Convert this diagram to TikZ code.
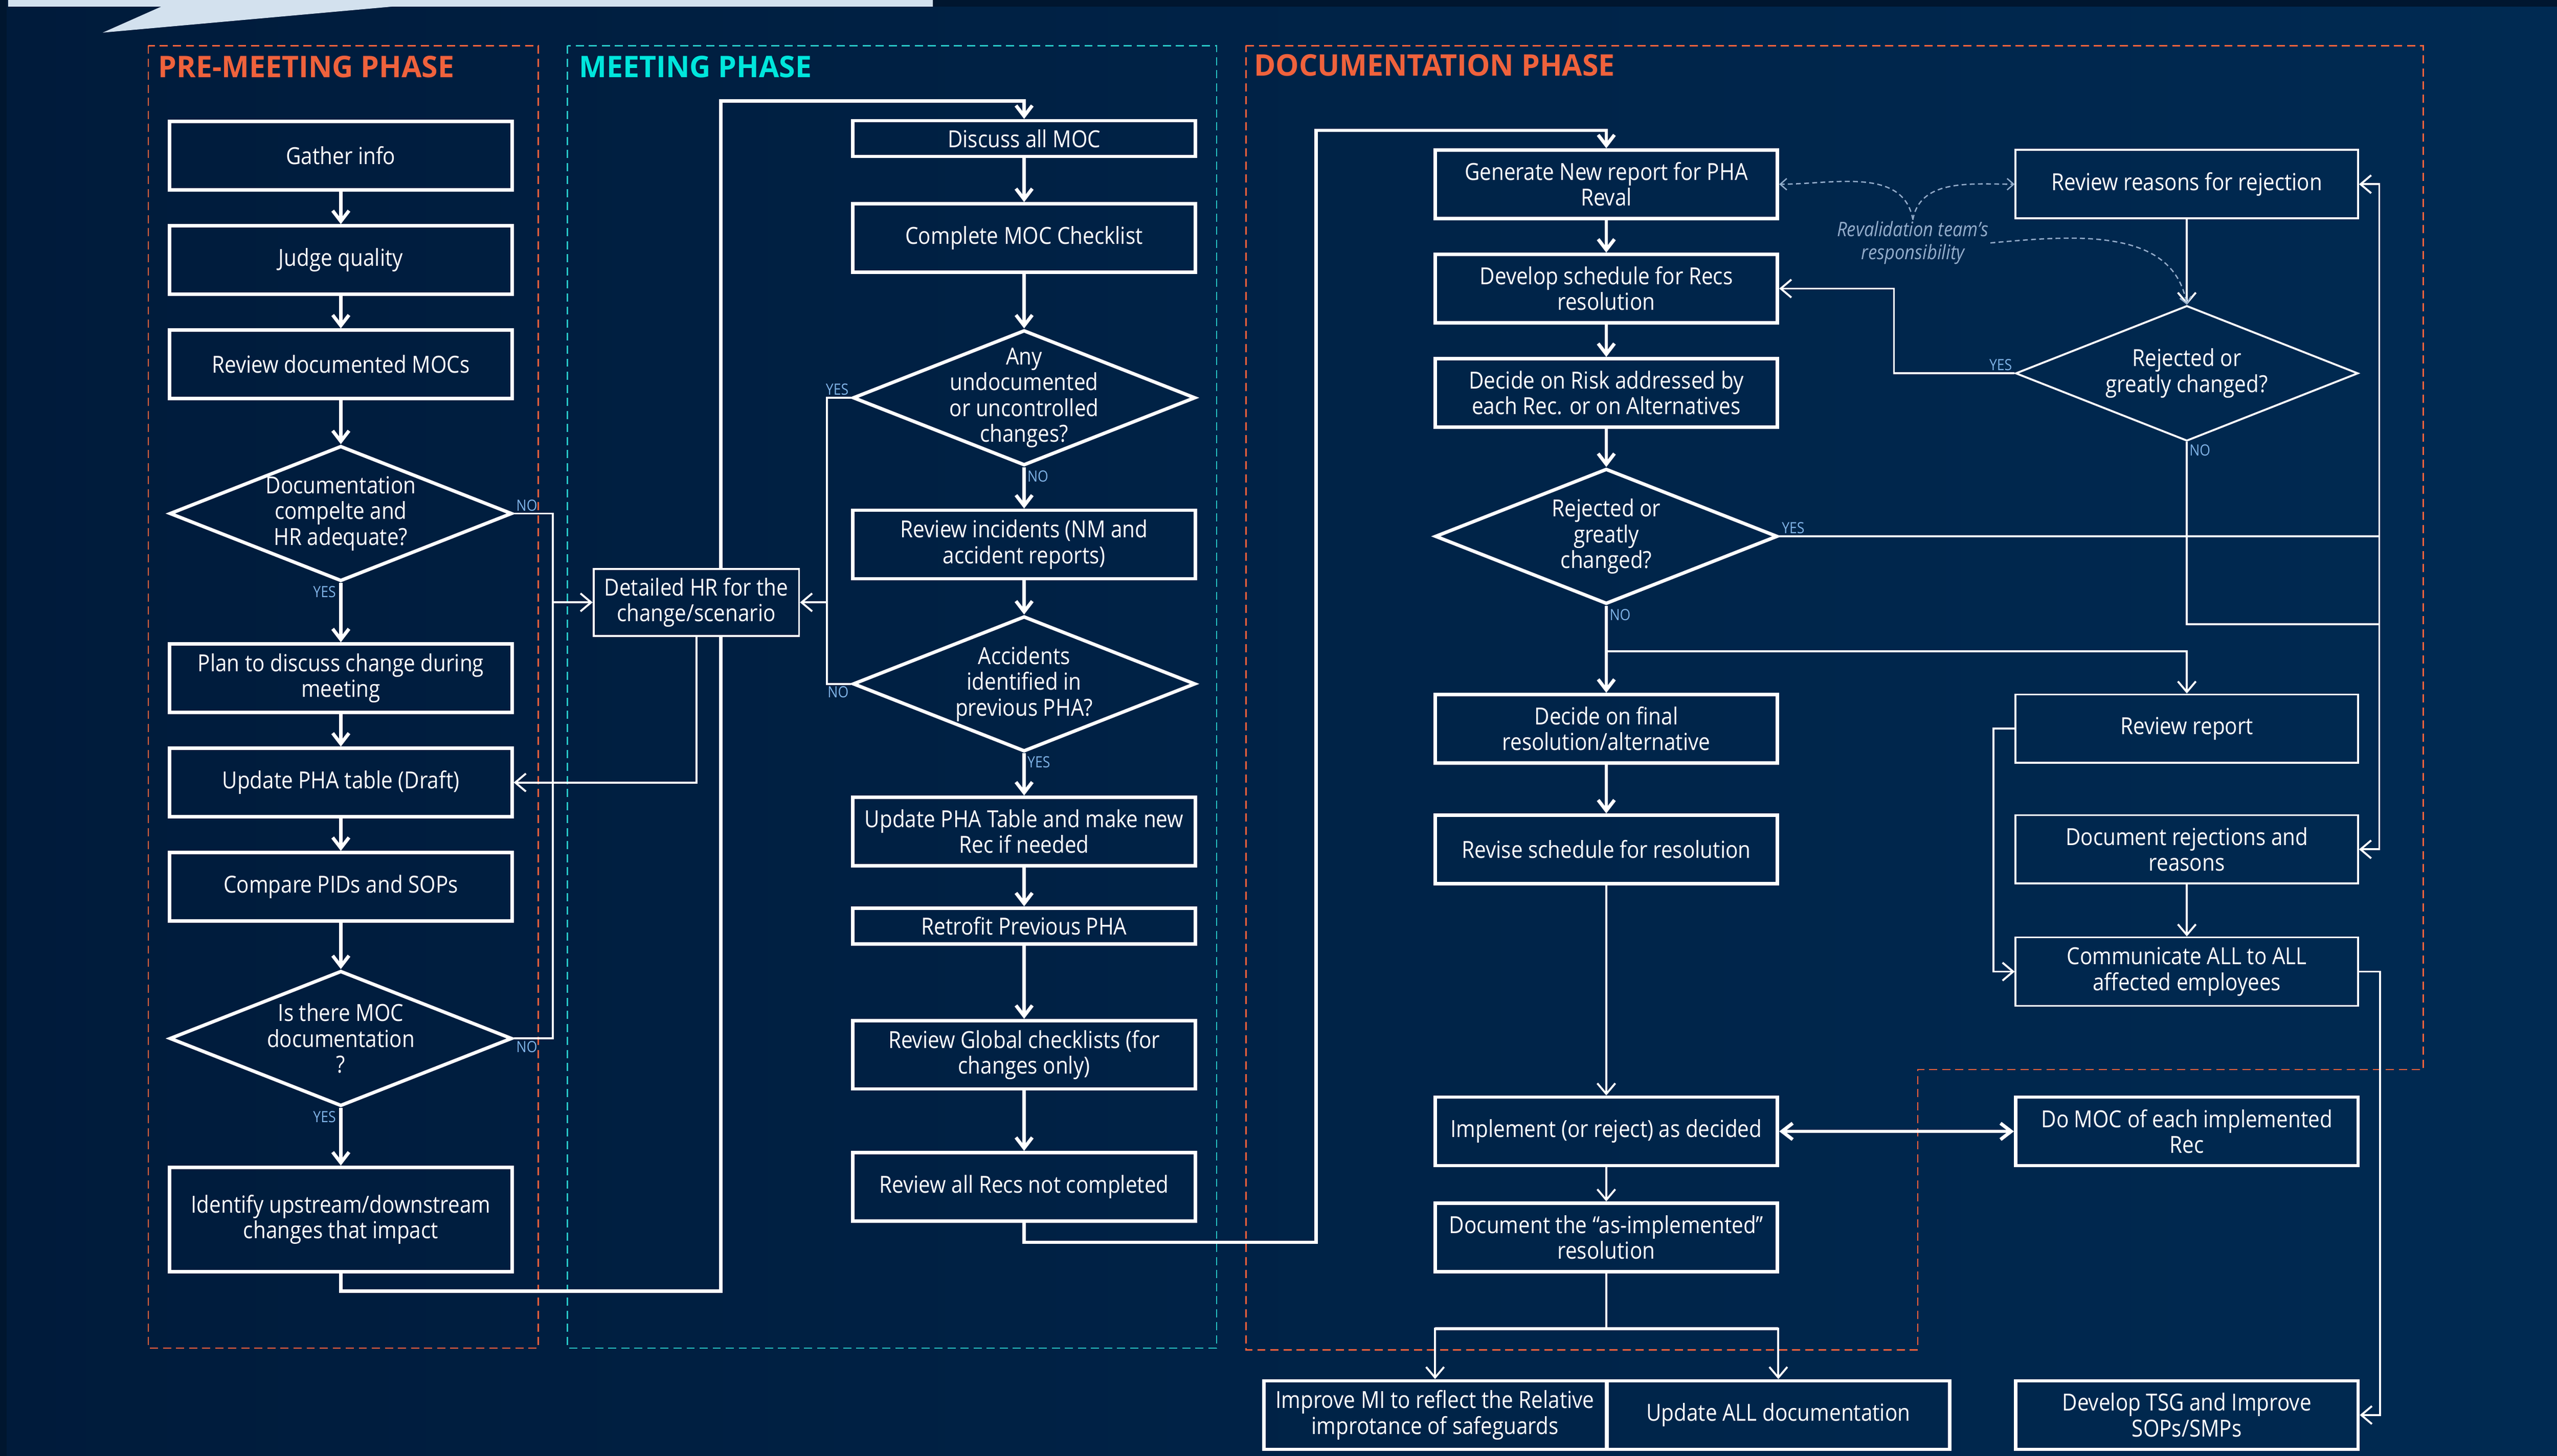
\documentclass[tikz,border=0pt]{standalone}
\usepackage{fontspec}
\setmainfont{Open Sans}[FakeStretch=0.88]
\newfontfamily\phasefamily{Open Sans}[FakeStretch=0.98]
\usetikzlibrary{shapes.geometric,arrows.meta}
\definecolor{bgleft}{HTML}{001B3B}
\definecolor{bgright}{HTML}{002A52}
\definecolor{bgdark}{HTML}{00162F}
\definecolor{orangeph}{HTML}{F0623C}
\definecolor{cyanph}{HTML}{00E6DC}
\definecolor{cyandash}{HTML}{27C3C3}
\definecolor{labblue}{HTML}{7FB3E6}
\definecolor{notegrey}{HTML}{93ADCB}
\definecolor{calloutc}{HTML}{D3E1EE}
\colorlet{hfill}{bgright!27!bgleft}
\newcommand\boxfont{\fontsize{41}{45}\selectfont}
\newcommand\labfont{\fontsize{27}{30}\selectfont}
\newcommand\notefont{\fontsize{35}{40}\selectfont}
\newcommand\phasefont{\phasefamily\bfseries\fontsize{52}{60}\selectfont}
\tikzset{
  box/.style={draw=white, line width=2.1mm, minimum width=210mm, minimum height=42mm, inner sep=0pt, align=center, text=white, font=\boxfont},
  thinbox/.style={box, line width=1.2mm},
  dia/.style={draw=white, line width=2.1mm, diamond, minimum width=210mm, minimum height=83mm, inner sep=0pt},
  thindia/.style={dia, line width=1.2mm},
  dtext/.style={text=white, font=\boxfont, align=center, inner sep=0pt},
  link/.style={draw=white, line width=2.1mm},
  thinlink/.style={draw=white, line width=1.2mm},
  arr/.style={link, -{Straight Barb[length=6.5mm,width=10mm]}},
  thinarr/.style={thinlink, -{Straight Barb[length=6.5mm,width=11mm]}},
  dblarr/.style={link, {Straight Barb[length=6.5mm,width=10mm]}-{Straight Barb[length=6.5mm,width=10mm]}},
  lab/.style={text=labblue, font=\labfont, inner sep=1mm},
  phase/.style={line width=0.8mm, dash pattern=on 5mm off 3mm},
  phasetitle/.style={anchor=west, font=\phasefont, inner sep=0pt},
  note/.style={text=notegrey, font=\notefont\itshape, align=center, inner sep=1mm},
  notearr/.style={draw=notegrey, line width=0.8mm, dash pattern=on 3mm off 2mm, -{Straight Barb[length=4mm,width=7mm]}}
}
\begin{document}
\begin{tikzpicture}[x=1mm, y=-1mm]
        \useasboundingbox (0,0) rectangle (1568,893);
        \shade[left color=bgleft, right color=bgright] (0,0) rectangle (1568,893);
        \fill[bgdark] (0,0) rectangle (4,893);
        \fill[bgdark] (572,0) rectangle (1568,4);
        \fill[calloutc] (5,0) -- (572,0) -- (572,4) -- (241,4) -- (63,20) -- (99,4) -- (5,4) -- cycle;

        \draw[phase, draw=orangeph] (91,28) rectangle (330,827);
        \draw[phase, draw=cyandash] (348,28) rectangle (746,827);
        \draw[phase, draw=orangeph] (764,28) -- (1486,28) -- (1486,656) -- (1176,656) -- (1176,828) -- (764,828) -- cycle;
        \node[phasetitle, text=orangeph] (T1) at (97,41) {PRE-MEETING PHASE};
        \node[phasetitle, text=cyanph] (T2) at (355,41) {MEETING PHASE};
        \node[phasetitle, text=orangeph] (T3) at (769,40) {DOCUMENTATION PHASE};

        \node[box] (P1) at (209,95.5) {Gather info};
        \node[box] (P2) at (209,159.5) {Judge quality};
        \node[box] (P3) at (209,223.5) {Review documented MOCs};
        \node[dia, label={[dtext]center:{Documentation\\compelte and\\HR adequate?}}] (P4) at (209,315) {};
        \node[box] (P5) at (209,416) {Plan to discuss change during\\meeting};
        \node[box] (P6) at (209,480) {Update PHA table (Draft)};
        \node[box] (P7) at (209,544) {Compare PIDs and SOPs};
        \node[dia, label={[dtext]center:{Is there MOC\\documentation\\?}}] (P8) at (209,637) {};
        \node[box, minimum height=64mm] (P9) at (209,748) {Identify upstream/downstream\\changes that impact};

        \node[box, minimum height=22mm] (M1) at (628,85) {Discuss all MOC};
        \node[box] (M2) at (628,146) {Complete MOC Checklist};
        \node[dia, label={[dtext]center:{Any\\undocumented\\or uncontrolled\\changes?}}] (M3) at (628,244) {};
        \node[box] (M4) at (628,334) {Review incidents (NM and\\accident reports)};
        \node[dia, label={[dtext]center:{Accidents\\identified in\\previous PHA?}}] (M5) at (628,419.5) {};
        \node[box] (M6) at (628,510) {Update PHA Table and make new\\Rec if needed};
        \node[box, minimum height=22mm] (M7) at (628,568) {Retrofit Previous PHA};
        \node[box] (M8) at (628,647) {Review Global checklists (for\\changes only)};
        \node[box] (M9) at (628,728) {Review all Recs not completed};

        \draw[arr] (P9.south) |- (442,792) -- (442,62) -| (M1.north);
        \node[thinbox, fill=hfill, minimum width=126mm, minimum height=41mm] (H1) at (427,369.5) {Detailed HR for the\\change/scenario};

        \node[box] (D1) at (985,113) {Generate New report for PHA\\Reval};
        \node[box] (D2) at (985,177) {Develop schedule for Recs\\resolution};
        \node[box] (D3) at (985,241) {Decide on Risk addressed by\\each Rec. or on Alternatives};
        \node[dia, label={[dtext]center:{Rejected or\\greatly\\changed?}}] (D4) at (985,329) {};
        \node[box] (D5) at (985,447) {Decide on final\\resolution/alternative};
        \node[box] (D6) at (985,521) {Revise schedule for resolution};
        \node[box] (D7) at (985,694) {Implement (or reject) as decided};
        \node[box] (D8) at (985,759) {Document the “as-implemented”\\resolution};
        \node[box] (D9) at (880,868) {Improve MI to reflect the Relative\\improtance of safeguards};
        \node[box] (D10) at (1090.5,868) {Update ALL documentation};

        \node[thinbox] (R1) at (1341,113) {Review reasons for rejection};
        \node[thindia, label={[dtext]center:{Rejected or\\greatly changed?}}] (R2) at (1341,229) {};
        \node[thinbox] (R3) at (1341,447) {Review report};
        \node[thinbox] (R4) at (1341,521) {Document rejections and\\reasons};
        \node[thinbox] (R5) at (1341,596) {Communicate ALL to ALL\\affected employees};
        \node[box] (R6) at (1341,694) {Do MOC of each implemented\\Rec};
        \node[box] (R7) at (1341,868) {Develop TSG and Improve\\SOPs/SMPs};

        \node[note] (N1) at (1173,149) {Revalidation team’s\\responsibility};

        \draw[arr] (P1) -- (P2);
        \draw[arr] (P2) -- (P3);
        \draw[arr] (P3) -- (P4);
        \draw[arr] (P4) -- (P5) node[lab, pos=0, anchor=north east, xshift=-1mm] {YES};
        \draw[arr] (P5) -- (P6);
        \draw[arr] (P6) -- (P7);
        \draw[arr] (P7) -- (P8);
        \draw[arr] (P8) -- (P9) node[lab, pos=0, anchor=north east, xshift=-1mm] {YES};
        \coordinate (J1) at (339,369.5);
        \draw[thinarr] (P4.east) node[lab, anchor=south west] {NO} -| (J1) -- (H1.west);
        \draw[thinlink] (P8.east) node[lab, anchor=north west] {NO} -| (J1);
        \draw[thinarr] (H1.south) |- (P6.east);

        \draw[arr] (M1) -- (M2);
        \draw[arr] (M2) -- (M3);
        \draw[arr] (M3) -- (M4) node[lab, pos=0, anchor=north west] {NO};
        \draw[arr] (M4) -- (M5);
        \draw[arr] (M5) -- (M6) node[lab, pos=0, anchor=north west] {YES};
        \draw[arr] (M6) -- (M7);
        \draw[arr] (M7) -- (M8);
        \draw[arr] (M8) -- (M9);
        \coordinate (J2) at (507,369.5);
        \draw[thinarr] (M3.west) node[lab, anchor=south east] {YES} -| (J2) -- (H1.east);
        \draw[thinlink] (M5.west) node[lab, anchor=north east] {NO} -| (J2);
        \draw[arr] (M9.south) |- (807,762) -- (807,80) -| (D1.north);

        \draw[arr] (D1) -- (D2);
        \draw[arr] (D2) -- (D3);
        \draw[arr] (D3) -- (D4);
        \draw[arr] (D4) -- (D5) node[lab, pos=0, anchor=north west] {NO};
        \draw[arr] (D5) -- (D6);
        \draw[thinarr] (D6) -- (D7);
        \draw[dblarr] (D7) -- (R6);
        \draw[thinarr] (D7) -- (D8);
        \coordinate (S1) at (985,815);
        \draw[thinlink] (D8) -- (S1);
        \draw[link] (D9.north |- S1) -- (D10.north |- S1);
        \draw[thinarr] (S1) -| (D9.north);
        \draw[thinarr] (S1) -| (D10.north);
        \draw[thinarr] (D4.south) ++(0,28) -| (R3.north);

        \coordinate (K1) at (1459,329);
        \draw[thinarr] (D4.east) node[lab, anchor=south west] {YES} -- (K1) |- (R1.east);
        \draw[thinarr] (K1) |- (R4.east);
        \draw[thinarr] (R1) -- (R2);
        \draw[thinarr] (R2.west) node[lab, anchor=south east] {YES} -- ++(-74,0) |- (D2.east);
        \draw[thinlink] (R2.south) node[lab, anchor=north west] {NO} |- (K1 |- 0,383);
        \draw[thinarr] (R3.west) -- ++(-13,0) |- (R5.west);
        \draw[thinarr] (R4) -- (R5);
        \draw[thinarr] (R5.east) -- ++(13,0) |- (R7.east);

        \draw[notearr] (N1.north) to[out=100, in=0] (D1.east);
        \draw[notearr] (N1.north) to[out=80, in=180] (R1.west);
        \draw[notearr] (N1.east) to[out=5, in=100] (R2.north);
\end{tikzpicture}
\end{document}
